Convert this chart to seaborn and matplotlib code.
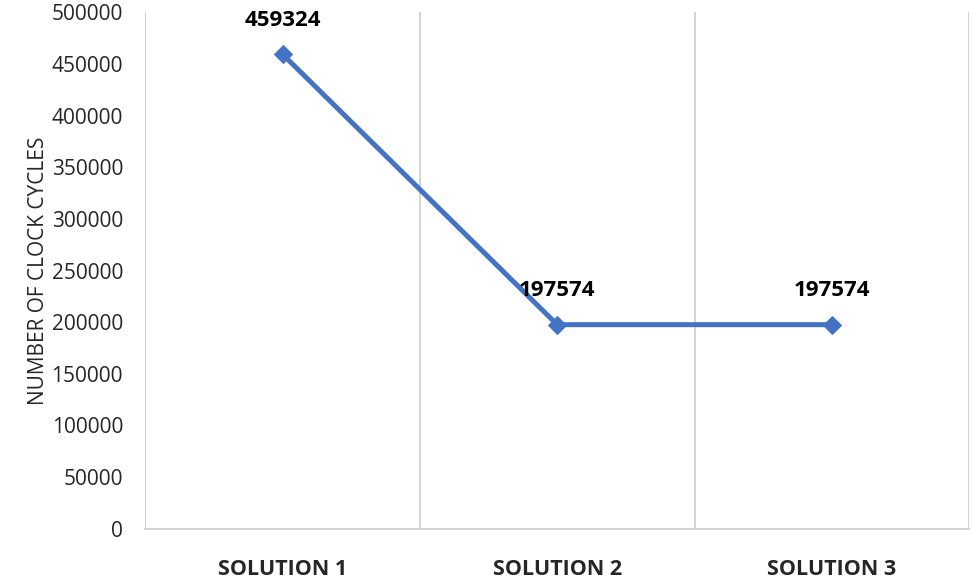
import pandas as pd
import seaborn as sns
import matplotlib.pyplot as plt

# data
solutions = ['SOLUTION 1', 'SOLUTION 2', 'SOLUTION 3']
clock_cycles = [459324, 197574, 197574]
y_ticks = [0, 50000, 100000, 150000, 200000, 250000, 300000, 350000, 400000, 450000, 500000]

df = pd.DataFrame({'solution': solutions, 'cycles': clock_cycles})
df['pos'] = range(len(df))

sns.set_style('white')
plt.rcParams['font.family'] = ['Open Sans', 'DejaVu Sans']

fig, ax = plt.subplots(figsize=(9.75, 5.83), dpi=100)
fig.subplots_adjust(left=0.149, right=0.994, top=0.979, bottom=0.093)

sns.lineplot(data=df, x='pos', y='cycles', ax=ax, color='#4472C4', linewidth=3.6,
             marker='D', markersize=9.5, markeredgecolor='#4472C4')

# data labels above points
for p, v in zip(df['pos'], df['cycles']):
    ax.annotate(str(v), (p, v), xytext=(0, 17), textcoords='offset points',
                ha='center', va='bottom', fontsize=16, fontweight='bold', color='black')

ax.set_xlim(-0.5, len(solutions) - 0.5)
ax.set_ylim(0, 500000)
ax.set_yticks(y_ticks)
ax.set_yticklabels([str(t) for t in y_ticks], fontsize=15, color='#262626')
ax.set_xticks(df['pos'])
ax.set_xticklabels(solutions, fontsize=15.5, fontweight='bold', color='#262626')
ax.tick_params(axis='x', length=0, pad=22)
ax.tick_params(axis='y', length=0, pad=16)

# vertical separators between categories
for b in [-0.5, 0.5, 1.5, 2.5]:
    ax.axvline(b, color='#D0D0D0', linewidth=1.3, zorder=0)

for s in ['top', 'left', 'right']:
    ax.spines[s].set_visible(False)
ax.spines['bottom'].set_color('#D0D0D0')
ax.spines['bottom'].set_linewidth(1.3)

ax.set_xlabel('')
ax.set_ylabel('NUMBER OF CLOCK CYCLES', fontsize=15, color='#262626', labelpad=2)

plt.savefig('out.png', dpi=100)
